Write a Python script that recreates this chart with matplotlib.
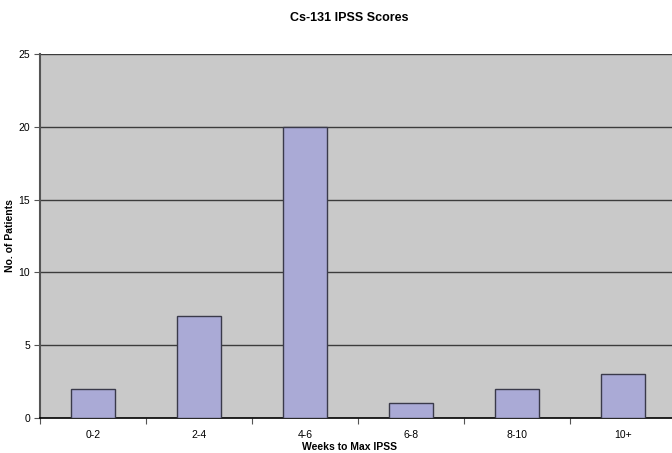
import matplotlib
matplotlib.use("Agg")
import matplotlib.pyplot as plt
import numpy as np

categories = ["0-2", "2-4", "4-6", "6-8", "8-10", "10+"]
patients = [2, 7, 20, 1, 2, 3]
yticks = [0, 5, 10, 15, 20, 25]

plt.rcParams['font.family'] = ['Liberation Sans', 'DejaVu Sans']

fig = plt.figure(figsize=(6.72, 4.53), dpi=100)
ax = fig.add_axes([40/672, 35/453, 636/672, 364/453])
ax.set_facecolor('#C9C9C9')

x = np.arange(len(categories))
ax.bar(x, patients, width=0.41, color='#AAAAD6', edgecolor='#3A3A4A', linewidth=1.0, zorder=3)

ax.set_xlim(-0.5, len(categories) - 0.5)
ax.set_ylim(0, 25)
ax.set_yticks(yticks)
ax.set_yticklabels([str(v) for v in yticks], fontsize=7.5)
for v in yticks[1:]:
    ax.axhline(v, color='#3C3C3C', linewidth=1.0, zorder=1)

ax.set_xticks(np.arange(len(categories) + 1) - 0.5, minor=False)
ax.set_xticklabels([])
ax.set_xticks(x, minor=True)
ax.set_xticklabels(categories, minor=True, fontsize=7.5)
ax.tick_params(axis='x', which='minor', length=0, pad=9)
ax.tick_params(axis='x', which='major', length=4, direction='out', color='#555555')
ax.tick_params(axis='y', length=4, direction='out', color='#555555', pad=3)

for s in ['top', 'right']:
    ax.spines[s].set_visible(False)
ax.spines['left'].set_color('#555555')
ax.spines['left'].set_linewidth(1.5)
ax.spines['bottom'].set_color('black')
ax.spines['bottom'].set_linewidth(1.2)

fig.text(349/672, 1 - 447/453, "Weeks to Max IPSS", ha='center', va='center', fontsize=7.5, fontweight='bold')
fig.text(10/672, 1 - 236/453, "No. of Patients", ha='center', va='center', rotation=90, fontsize=7.5, fontweight='bold')
fig.text(349/672, 1 - 18/453, "Cs-131 IPSS Scores", ha='center', va='center', fontsize=9, fontweight='bold')

fig.savefig("out.png", dpi=100)
